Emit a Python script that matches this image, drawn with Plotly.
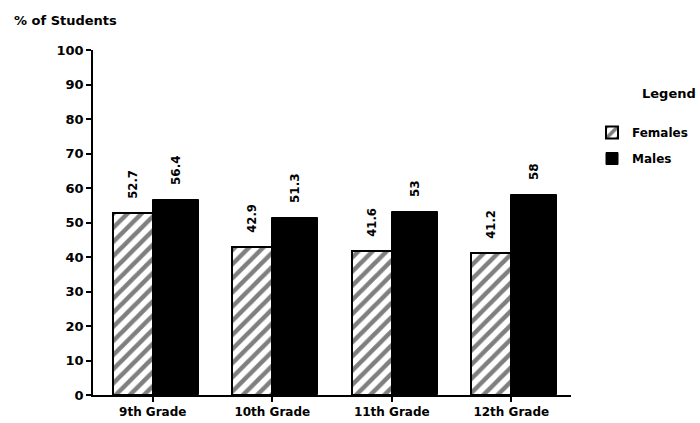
import plotly.graph_objects as go

grades = ["9th Grade", "10th Grade", "11th Grade", "12th Grade"]
females = [52.7, 42.9, 41.6, 41.2]
males = [56.4, 51.3, 53, 58]
y_ticks = [0, 10, 20, 30, 40, 50, 60, 70, 80, 90, 100]

FONT = "DejaVu Sans"
PAD = "\u00a0\u00a0\u00a0"  # gap between a bar top and its rotated value label


def bar_labels(values):
    return [f"{PAD}<b>{v:g}</b>" for v in values]


fig = go.Figure()
fig.add_trace(go.Bar(
    name="<b>Females</b>", x=grades, y=females, legendgroup="f",
    width=0.335, offset=-0.335,
    marker=dict(color="white", line=dict(color="black", width=2),
                pattern=dict(shape="/", fgcolor="black", bgcolor="white",
                             size=10, solidity=0.45)),
    text=bar_labels(females), textposition="outside",
    textangle=-90, textfont=dict(family=FONT, size=12, color="black"),
    cliponaxis=False,
))
fig.add_trace(go.Bar(
    name="<b>Males</b>", x=grades, y=males, legendgroup="m",
    width=0.385, offset=0,
    marker=dict(color="black", line=dict(color="black", width=1)),
    text=bar_labels(males), textposition="outside",
    textangle=-90, textfont=dict(family=FONT, size=12, color="black"),
    cliponaxis=False,
))

fig.update_layout(
    width=700, height=423,
    margin=dict(l=93, r=129, t=50, b=28, autoexpand=False),
    paper_bgcolor="white", plot_bgcolor="white",
    font=dict(family=FONT, size=13, color="black"),
    showlegend=True,
    legend=dict(x=(592 - 93) / 478, y=(395 - 118) / 345, xanchor="left", yanchor="top",
                font=dict(family=FONT, size=12, color="black"),
                itemwidth=30, tracegroupgap=7),
    bargap=0, barmode="overlay",
    annotations=[
        dict(text="<b>% of Students</b>", xref="paper", yref="paper",
             x=(12 - 93) / 478, y=(395 - 20) / 345, xanchor="left", yanchor="middle",
             showarrow=False),
        dict(text="<b>Legend</b>", xref="paper", yref="paper",
             x=(698 - 93) / 478, y=(395 - 93) / 345, xanchor="right", yanchor="middle",
             showarrow=False, font=dict(family=FONT, size=13)),
    ],
)

fig.update_yaxes(
    range=[0, 100], tickvals=y_ticks, ticktext=[f"<b>{t}</b>" for t in y_ticks],
    showgrid=False, zeroline=False, showline=True, linecolor="black", linewidth=1.5,
    ticks="outside", ticklen=5, tickcolor="black", tickwidth=1.5,
    tickfont=dict(family=FONT, size=13), automargin=False,
)
fig.update_xaxes(
    tickvals=grades, ticktext=[f"<b>{g}</b>" for g in grades],
    showgrid=False, showline=True, linecolor="black", linewidth=1.5,
    ticks="outside", ticklen=5, tickcolor="black", tickwidth=1.5,
    tickfont=dict(family=FONT, size=12), automargin=False,
)

fig.write_html("out.html")
